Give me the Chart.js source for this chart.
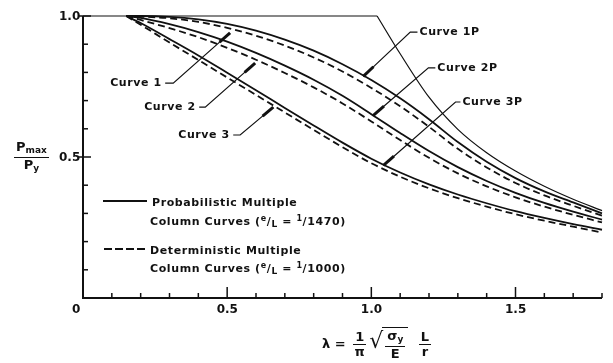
<!DOCTYPE html>
<html><head><meta charset="utf-8">
<script src="https://cdn.jsdelivr.net/npm/chart.js@4.4.1/dist/chart.umd.min.js"></script>
<style>
body{margin:0;background:#fff;}
#wrap{position:relative;width:613px;height:363px;overflow:hidden;background:#fff;}
#c{position:absolute;left:0;top:0;}
.t{position:absolute;font-family:"DejaVu Sans",sans-serif;font-weight:bold;font-size:11px;color:#111;white-space:nowrap;letter-spacing:0.6px;line-height:14px;}
.tk{position:absolute;font-family:"DejaVu Sans",sans-serif;font-weight:bold;font-size:12px;color:#111;white-space:nowrap;line-height:14px;}
.lab{position:absolute;font-family:"DejaVu Sans",sans-serif;font-weight:bold;font-size:13px;color:#111;white-space:nowrap;line-height:15px;}
.fr{display:inline-flex;flex-direction:column;align-items:center;vertical-align:middle;line-height:14px;margin:0 3px;}
.fr .num{border-bottom:1.5px solid #111;padding:0 2px;}
sub{font-size:9px;vertical-align:-2px;}
sup{font-size:8px;vertical-align:4px;}
</style></head><body>
<div id="wrap"><canvas id="c" width="613" height="363"></canvas></div>
<script>
// ---- data ----
const lambda   = [0.15, 0.2, 0.3, 0.4, 0.5, 0.6, 0.7, 0.8, 0.9, 1.0, 1.1, 1.2, 1.3, 1.4, 1.5, 1.6, 1.7, 1.8];
const curve1P  = [1.000, 1.000, 0.997, 0.988, 0.972, 0.948, 0.916, 0.877, 0.829, 0.773, 0.708, 0.634, 0.553, 0.483, 0.425, 0.378, 0.339, 0.300];
const curve1   = [1.000, 0.998, 0.992, 0.979, 0.958, 0.930, 0.895, 0.853, 0.803, 0.745, 0.680, 0.607, 0.529, 0.463, 0.408, 0.364, 0.327, 0.292];
const curve2P  = [1.000, 0.993, 0.971, 0.943, 0.909, 0.869, 0.824, 0.774, 0.717, 0.652, 0.585, 0.521, 0.464, 0.415, 0.373, 0.337, 0.306, 0.278];
const curve2   = [1.000, 0.986, 0.957, 0.925, 0.887, 0.845, 0.798, 0.747, 0.690, 0.626, 0.560, 0.497, 0.442, 0.396, 0.357, 0.324, 0.295, 0.268];
const curve3P  = [1.000, 0.975, 0.918, 0.860, 0.799, 0.737, 0.674, 0.612, 0.551, 0.494, 0.445, 0.403, 0.367, 0.336, 0.308, 0.284, 0.262, 0.242];
const curve3   = [1.000, 0.969, 0.906, 0.844, 0.782, 0.720, 0.658, 0.596, 0.535, 0.478, 0.430, 0.389, 0.354, 0.324, 0.297, 0.274, 0.253, 0.232];
const flatX    = [0, 1.02];
const flatY    = [1.0, 1.0];
const eulerX   = [1.02, 1.1, 1.2, 1.3, 1.4, 1.5, 1.6, 1.7, 1.8];
const eulerY   = [1.0, 0.866, 0.712, 0.598, 0.515, 0.450, 0.396, 0.350, 0.310];
const xTickValues = [0.5, 1.0, 1.5];
const xTickLabels = ['0.5', '1.0', '1.5'];
const yTickValues = [0.5, 1.0];
const yTickLabels = ['0.5', '1.0'];
const curveLabels = ['Curve 1', 'Curve 2', 'Curve 3', 'Curve 1P', 'Curve 2P', 'Curve 3P'];
// leader lines (data units): label end -> point on curve
const leaders = [
  [[0.285,0.762],[0.313,0.762],[0.510,0.940]],
  [[0.403,0.677],[0.424,0.677],[0.597,0.833]],
  [[0.521,0.578],[0.545,0.578],[0.660,0.677]],
  [[1.160,0.943],[1.135,0.943],[0.972,0.786]],
  [[1.222,0.816],[1.198,0.816],[1.007,0.648]],
  [[1.309,0.695],[1.292,0.695],[1.042,0.470]]
];

const pts = (xs, ys) => xs.map((x, i) => ({x, y: ys[i]}));
const solid = (d) => ({data: d, borderColor:'#111', borderWidth:1.8, pointRadius:0, cubicInterpolationMode:'monotone', clip:false});
const dashed = (d) => ({data: d, borderColor:'#111', borderWidth:1.8, borderDash:[7,4], pointRadius:0, cubicInterpolationMode:'monotone', clip:false});

const deco = {
  id: 'deco',
  afterDatasetsDraw(chart) {
    const {ctx, scales:{x, y}, chartArea:a} = chart;
    ctx.save();
    ctx.strokeStyle = '#111';
    ctx.lineCap = 'butt';
    ctx.lineWidth = 2;
    ctx.beginPath();
    ctx.moveTo(a.left, a.top); ctx.lineTo(a.left, a.bottom); ctx.lineTo(a.right, a.bottom);
    ctx.stroke();
    ctx.lineWidth = 1.5;
    for (let k = 1; k <= 18; k++) {
      const v = k / 10, px = x.getPixelForValue(v);
      const len = (k % 5 === 0) ? 11 : 5;
      ctx.beginPath(); ctx.moveTo(px, a.bottom); ctx.lineTo(px, a.bottom - len); ctx.stroke();
    }
    for (let k = 1; k <= 10; k++) {
      const v = k / 10, py = y.getPixelForValue(v);
      const len = (k % 5 === 0) ? 8 : 5;
      ctx.beginPath(); ctx.moveTo(a.left - (k % 5 === 0 ? 4 : 0), py); ctx.lineTo(a.left + len, py); ctx.stroke();
    }
    leaders.forEach(L => {
      const p = L.map(([lx, ly]) => [x.getPixelForValue(lx), y.getPixelForValue(ly)]);
      ctx.lineWidth = 1.2;
      ctx.beginPath(); ctx.moveTo(p[0][0], p[0][1]);
      for (let i = 1; i < p.length; i++) ctx.lineTo(p[i][0], p[i][1]);
      ctx.stroke();
      const e = p[p.length - 1], s = p[p.length - 2];
      const dx = e[0] - s[0], dy = e[1] - s[1], d = Math.hypot(dx, dy);
      ctx.lineWidth = 3;
      ctx.beginPath(); ctx.moveTo(e[0] - dx / d * 14, e[1] - dy / d * 14); ctx.lineTo(e[0], e[1]); ctx.stroke();
    });
    ctx.lineWidth = 1.8;
    ctx.beginPath(); ctx.moveTo(103, 201); ctx.lineTo(147, 201); ctx.stroke();
    ctx.setLineDash([8, 3]);
    ctx.beginPath(); ctx.moveTo(104, 249); ctx.lineTo(148, 249); ctx.stroke();
    ctx.restore();
  }
};

const chart = new Chart(document.getElementById('c'), {
  type: 'line',
  data: {
    datasets: [
      {data: pts(flatX, flatY), borderColor:'#111', borderWidth:1.2, pointRadius:0, tension:0, clip:false},
      {data: pts(eulerX, eulerY), borderColor:'#111', borderWidth:1.2, pointRadius:0, cubicInterpolationMode:'monotone', clip:false},
      solid(pts(lambda, curve1P)),
      dashed(pts(lambda, curve1)),
      solid(pts(lambda, curve2P)),
      dashed(pts(lambda, curve2)),
      solid(pts(lambda, curve3P)),
      dashed(pts(lambda, curve3))
    ]
  },
  options: {
    responsive: false,
    animation: false,
    layout: {padding: {left: 83, right: 11, top: 16, bottom: 65}},
    plugins: {legend: {display: false}, tooltip: {enabled: false}},
    scales: {
      x: {type: 'linear', min: 0, max: 1.8, display: false},
      y: {type: 'linear', min: 0, max: 1.0, display: false}
    }
  },
  plugins: [deco]
});

// ---- text (HTML) ----
const wrap = document.getElementById('wrap');
function addText(html, left, top, cls, align) {
  const d = document.createElement('div');
  d.className = cls || 't';
  d.innerHTML = html;
  wrap.appendChild(d);
  let l = left;
  if (align === 'right') l = left - d.offsetWidth;
  else if (align === 'center') l = left - d.offsetWidth / 2;
  d.style.left = l + 'px';
  d.style.top = (top - d.offsetHeight / 2) + 'px';
  return d;
}
const sx = chart.scales.x, sy = chart.scales.y;
xTickValues.forEach((v, i) => addText(xTickLabels[i], sx.getPixelForValue(v), 309, 'tk', 'center'));
addText('0', 76, 309, 'tk', 'center');
yTickValues.forEach((v, i) => addText(yTickLabels[i], 80, sy.getPixelForValue(v), 'tk', 'right'));

leaders.forEach((L, i) => {
  const px = sx.getPixelForValue(L[0][0]), py = sy.getPixelForValue(L[0][1]);
  if (i < 3) addText(curveLabels[i], px - 3, py, 't', 'right');
  else addText(curveLabels[i], px + 2, py, 't', 'left');
});

addText('Probabilistic Multiple', 152, 203);
addText('Column Curves (<sup>e</sup>/<sub>L</sub> = <sup>1</sup>/1470)', 150, 221);
addText('Deterministic Multiple', 150, 251);
addText('Column Curves (<sup>e</sup>/<sub>L</sub> = <sup>1</sup>/1000)', 150, 268);

addText('<span class="fr"><span class="num">P<sub>max</sub></span><span>P<sub>y</sub></span></span>', 11, 157, 'lab');
addText('λ = <span class="fr"><span class="num">1</span><span>π</span></span><span style="font-size:22px;font-weight:normal">√</span><span class="fr" style="border-top:1.5px solid #111;margin-left:-1px;padding:1px 3px 0 3px"><span class="num">σ<sub>y</sub></span><span>E</span></span>&nbsp;<span class="fr"><span class="num">L</span><span>r</span></span>', 322, 344, 'lab');
</script>
</body></html>
